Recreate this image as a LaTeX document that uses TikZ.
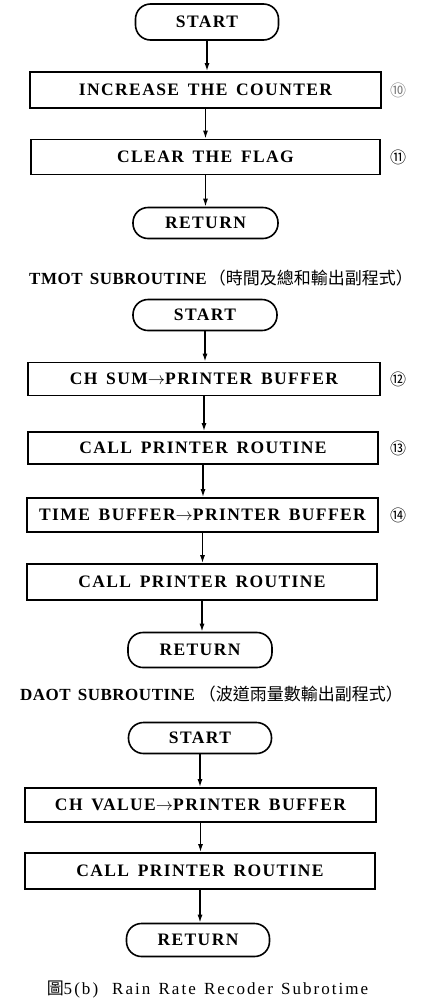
\documentclass[tikz,border=0pt]{standalone}
\usepackage{fontspec}
\setmainfont{Liberation Serif}
\newfontfamily\boxfont[LetterSpace=8.0,WordSpace=1.5]{Liberation Serif}
\newfontfamily\ttlfont[LetterSpace=3.0,WordSpace=1.5]{Liberation Serif}
\newfontfamily\capfont[LetterSpace=12.0,WordSpace=1.3]{Liberation Serif}
\newfontfamily\cjk{Noto Sans CJK TC}
\newcommand{\myarrow}{$\rightarrow$}
\usetikzlibrary{arrows.meta}
\tikzset{
  proc/.style={draw, line width=1.8pt, inner sep=0pt,
    font={\boxfont\bfseries\fontsize{17.5}{20}\selectfont}},
  term/.style={draw, line width=1.6pt, rounded corners=15pt, inner sep=0pt,
    minimum width=143pt, font={\boxfont\bfseries\fontsize{17.5}{20}\selectfont}},
  arr/.style={-{Latex[length=8pt,width=5pt]}, line width=1.4pt},
  num/.style={font={\cjk\fontsize{16}{18}\selectfont}, inner sep=0pt},
  ttl/.style={font={\ttlfont\bfseries\fontsize{17}{20}\selectfont}, inner sep=0pt}
}
\begin{document}
\begin{tikzpicture}[x=1pt,y=-1pt]
\useasboundingbox (0,0) rectangle (422,1002);
% section 1
\node[term, minimum height=36pt] (s1) at (207,22) {START};
\node[proc, minimum width=351pt, minimum height=36pt] (b1) at (205.5,90) {INCREASE THE COUNTER};
\node[proc, minimum width=349pt, minimum height=35pt] (b2) at (205.5,157) {CLEAR THE FLAG};
\node[term, minimum height=31pt, minimum width=145pt] (r1) at (205.5,223) {RETURN};
\node[num, text=black!50] (n10) at (398,90) {⑩};
\node[num] (n11) at (398,157) {⑪};
\draw[arr] (s1.south) -- (s1.south |- b1.north);
\draw[arr] (b1.south) -- (b1.south |- b2.north);
\draw[arr] (b2.south) -- (b2.south |- r1.north);
% title 1
\node[ttl] (t1) at (221,278) {TMOT SUBROUTINE\hspace{2pt}{\cjk\mdseries（時間及總和輸出副程式）}};
% section 2
\node[term, minimum height=31pt, minimum width=144pt] (s2) at (205,315) {START};
\node[proc, minimum width=352pt, minimum height=33pt] (b3) at (204,379) {CH SUM\myarrow PRINTER BUFFER};
\node[proc, minimum width=350pt, minimum height=32pt] (b4) at (203,448) {CALL PRINTER ROUTINE};
\node[proc, minimum width=351pt, minimum height=34pt] (b5) at (202.5,515) {TIME BUFFER\myarrow PRINTER BUFFER};
\node[proc, minimum width=350pt, minimum height=36pt] (b6) at (202,582) {CALL PRINTER ROUTINE};
\node[term, minimum height=35pt, minimum width=144pt] (r2) at (200,650) {RETURN};
\node[num] (n12) at (398,379) {⑫};
\node[num] (n13) at (398,448) {⑬};
\node[num] (n14) at (398,515) {⑭};
\draw[arr] (s2.south) -- (s2.south |- b3.north);
\draw[arr] (b3.south) -- (b3.south |- b4.north);
\draw[arr] (b4.south) -- (b4.south |- b5.north);
\draw[arr] (b5.south) -- (b5.south |- b6.north);
\draw[arr] (b6.south) -- (b6.south |- r2.north);
% title 2
\node[ttl] (t2) at (211.5,694) {DAOT SUBROUTINE\hspace{4pt}{\cjk\mdseries（波道雨量數輸出副程式）}};
% section 3
\node[term, minimum height=31pt, minimum width=143pt] (s3) at (200,738) {START};
\node[proc, minimum width=351pt, minimum height=34pt] (b7) at (200.5,805) {CH VALUE\myarrow PRINTER BUFFER};
\node[proc, minimum width=350pt, minimum height=36pt] (b8) at (200,871) {CALL PRINTER ROUTINE};
\node[term, minimum height=33pt, minimum width=143pt] (r3) at (198,940) {RETURN};
\draw[arr] (s3.south) -- (s3.south |- b7.north);
\draw[arr] (b7.south) -- (b7.south |- b8.north);
\draw[arr] (b8.south) -- (b8.south |- r3.north);
% caption
\node[inner sep=0pt, font={\capfont\fontsize{17}{19}\selectfont}] (cap) at (207.5,990)
  {{\cjk 圖}5(b)\hspace{14pt}Rain Rate Recoder Subrotime};
\end{tikzpicture}
\end{document}
